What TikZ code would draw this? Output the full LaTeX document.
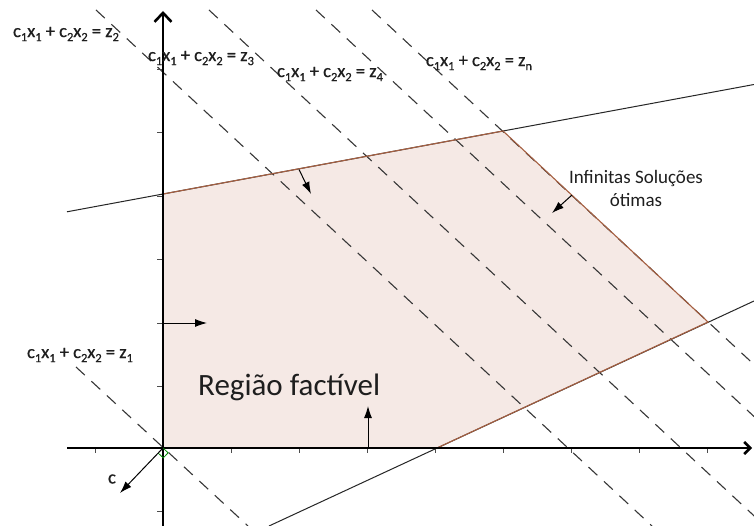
\documentclass[tikz,border=0pt]{standalone}
\usepackage{fontspec}
\setmainfont{Carlito}
\newfontfamily\eqfont[FakeBold=0.8]{Carlito}
\usetikzlibrary{arrows.meta}
\definecolor{regfill}{RGB}{245,233,229}
\definecolor{regedge}{RGB}{165,95,65}
\definecolor{dashc}{RGB}{55,55,55}
\definecolor{txtc}{RGB}{30,30,30}
\newcommand{\sbx}[1]{\raisebox{-0.22em}{\fontsize{12.5}{12.5}\selectfont #1}}
\newcommand{\eqlbl}[1]{c\sbx{1}x\sbx{1} + c\sbx{2}x\sbx{2} = z\sbx{#1}}
\begin{document}
\begin{tikzpicture}[x=1pt,y=-1pt,
  axis/.style={line width=2.6pt,black},
  tickl/.style={line width=0.8pt,black!70},
  objline/.style={dashc,line width=1.1pt,dash pattern=on 12pt off 9pt},
  consline/.style={black!85,line width=1pt},
  regionedge/.style={regedge,line width=1.1pt},
  normarrow/.style={black,line width=1pt,-{Latex[length=12pt,width=8pt]}},
  eqtext/.style={text=txtc,font=\eqfont\fontsize{18.5}{18.5}\selectfont,inner sep=0pt},
  bigtext/.style={text=txtc,font=\fontsize{31}{31}\selectfont,inner sep=0pt},
  midtext/.style={text=txtc,font=\fontsize{19}{23}\selectfont,inner sep=0pt,align=center}]
\useasboundingbox (0,0) rectangle (754,526);
\fill[white] (0,0) rectangle (754,526);
% vertices
\coordinate (O) at (163,448);
\coordinate (A) at (163,194);
\coordinate (B) at (503,131);
\coordinate (C) at (708,322);
\coordinate (D) at (437,448);
% feasible region fill
\fill[regfill] (O) -- (A) -- (B) -- (C) -- (D) -- cycle;
% objective lines
\begin{scope}
\clip (0,0) rectangle (754,526);
\coordinate (z1a) at (76,367);  \coordinate (z1b) at (248,526);
\coordinate (l4a) at (96,10);   \coordinate (l4b) at (652,526);
\coordinate (l5a) at (209,10);  \coordinate (l5b) at (765,526);
\coordinate (l6a) at (316,10);  \coordinate (l6b) at (872,526);
\coordinate (l7a) at (372,10);  \coordinate (l7b) at (928,526);
\draw[objline] (z1a) -- (z1b);
\draw[objline] (l4a) -- (l4b);
\draw[objline] (l5a) -- (l5b);
\draw[objline] (l6a) -- (l6b);
\draw[objline] (l7a) -- (l7b);
% constraint lines
\coordinate (u1) at (67,211.8);  \coordinate (u2) at (754,84.5);
\coordinate (r1) at (269,526);   \coordinate (r2) at (754,301);
\draw[consline] (u1) -- (u2);
\draw[consline] (r1) -- (r2);
\end{scope}
% region edges
\draw[regionedge] (A) -- (B) -- (C) -- (D) -- (O) -- cycle;
% ticks
\foreach \tx in {95,231,299,367,435,503,571,639,707} \draw[tickl] (\tx,448) -- (\tx,453);
\foreach \ty in {511,386,323,259,196,132,69} \draw[tickl] (157,\ty) -- (163,\ty);
% axes
\coordinate (yb) at (163,526); \coordinate (yt) at (163,11);
\coordinate (xl) at (67,448);  \coordinate (xr) at (752,448);
\draw[axis,-{Straight Barb[length=9pt,width=17pt]}] (yb) -- (yt);
\draw[axis,-{Straight Barb[length=6pt,width=12pt]}] (xl) -- (xr);
% right angle marker
\draw[green!55!black,line width=0.8pt] (O) -- ++(5.1,4.8) -- ++(-4.8,5.1) -- ++(-5.1,-4.8);
% vector c
\coordinate (cend) at (120,493);
\draw[normarrow] (O) -- (cend);
\node[eqtext] (clbl) at (112,479) {c};
% constraint normal arrows
\coordinate (n1a) at (163,323); \coordinate (n1b) at (207,323);
\coordinate (n2a) at (368,448); \coordinate (n2b) at (368,406);
\coordinate (n3a) at (299,169.5); \coordinate (n3b) at (311,194);
\coordinate (n4a) at (572,195); \coordinate (n4b) at (552,213);
\draw[normarrow] (n1a) -- (n1b);
\draw[normarrow] (n2a) -- (n2b);
\draw[normarrow] (n3a) -- (n3b);
\draw[normarrow] (n4a) -- (n4b);
% labels
\node[eqtext] (lz1) at (80,355) {\eqlbl{1}};
\node[eqtext] (lz2) at (66,34) {\eqlbl{2}};
\node[eqtext] (lz3) at (201,58) {\eqlbl{3}};
\node[eqtext] (lz4) at (330,74) {\eqlbl{4}};
\node[eqtext] (lzn) at (479,63) {\eqlbl{n}};
\node[bigtext,anchor=base west] (reg) at (198,395) {Região factível};
\node[midtext] (inf) at (636,188) {Infinitas Soluções\\ótimas};
\end{tikzpicture}
\end{document}
